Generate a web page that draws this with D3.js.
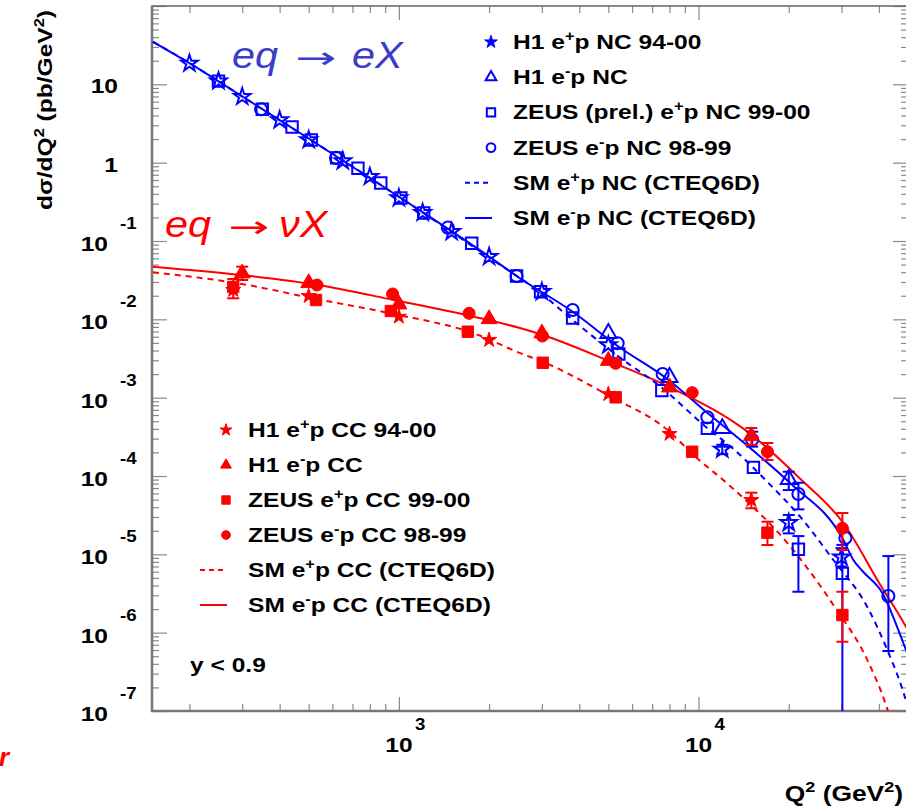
<!DOCTYPE html>
<html><head><meta charset="utf-8">
<script src="https://cdn.jsdelivr.net/npm/d3@7"></script>
<style>html,body{margin:0;padding:0;background:#fff;} svg{display:block;}</style>
</head><body>
<svg id="c" width="906" height="808"></svg>
<script>
// ---------------- DATA ----------------
// Neutral current (blue)
const h1NCposQ2 = [200,250,300,400,500,650,800,1000,1200,1500,2000,3000,5000,12000,20000,30000];
const h1NCposY  = [18.5,11.0,6.95,3.50,1.95,1.05,0.662,0.354,0.230,0.131,0.0630,0.0225,0.0047,2.19e-4,2.53e-5,9.2e-6];
const h1NCposHi = [null,null,null,null,null,null,null,null,null,null,null,null,null,2.5e-4,3.18e-5,1.2e-5];
const h1NCposLo = [null,null,null,null,null,null,null,null,null,null,null,null,null,1.9e-4,1.85e-5,7.0e-6];

const h1NCnegQ2 = [5000,8000,12000,20000];
const h1NCnegY  = [0.00663,0.00182,4.06e-4,9.07e-5];
const h1NCnegHi = [null,null,null,1.134e-4];
const h1NCnegLo = [null,null,null,6.62e-5];

const zNCposQ2 = [250,350,440,510,620,730,870,1015,1210,1750,2470,2970,3800,5420,7540,10700,15250,21540,30200];
const zNCposY  = [11.0,4.80,2.85,1.95,1.15,0.85,0.55,0.354,0.228,0.0934,0.0357,0.0225,0.0104,0.00361,0.00123,4.06e-4,1.29e-4,1.16e-5,5.72e-6];
const zNCposHi = [null,null,null,null,null,null,null,null,null,null,null,null,null,null,null,null,null,1.71e-5,1.32e-5];
const zNCposLo = [null,null,null,null,null,null,null,null,null,null,null,null,null,null,null,null,null,3.33e-6,1e-9];

const zNCnegQ2 = [347,617,1457,2470,3800,5370,7590,10700,15100,21540,30900,43000];
const zNCnegY  = [4.80,1.15,0.148,0.0357,0.01315,0.00494,0.00200,5.61e-4,2.9e-4,5.89e-5,1.615e-5,2.94e-6];
const zNCnegHi = [null,null,null,null,null,null,null,null,3.68e-4,8.2e-5,null,9.5e-6];
const zNCnegLo = [null,null,null,null,null,null,null,null,2.37e-4,3.75e-5,null,5.83e-7];

// Charged current (red)
const h1CCposQ2 = [280,500,1000,2000,5000,8000,15000];
const h1CCposY  = [0.0237,0.0198,0.0108,0.00545,0.00111,3.44e-4,4.93e-5];
const h1CCposHi = [null,null,null,null,null,null,6.12e-5];
const h1CCposLo = [null,null,null,null,null,null,3.87e-5];

const h1CCnegQ2 = [300,500,1000,2000,3000,5000,8000,15000];
const h1CCnegY  = [0.0387,0.0291,0.01555,0.01009,0.00663,0.00296,0.001356,3.24e-4];
const h1CCnegHi = [0.047,null,null,null,null,null,null,4.10e-4];
const h1CCnegLo = [0.0318,null,null,null,null,null,null,2.49e-4];

const zCCposQ2 = [280,529,940,1698,3020,5290,9520,16980,30200];
const zCCposY  = [0.0259,0.01765,0.01277,0.00695,0.00279,0.00101,2.04e-4,1.89e-5,1.68e-6];
const zCCposHi = [0.0327,null,null,null,null,null,null,2.61e-5,3.33e-6];
const zCCposLo = [0.01855,null,null,null,null,null,null,1.315e-5,7.66e-7];

const zCCnegQ2 = [533,953,1715,3010,5290,9520,16980,30200];
const zCCnegY  = [0.0274,0.02104,0.01194,0.00612,0.002745,0.001157,2.04e-4,2.15e-5];
const zCCnegHi = [null,null,null,null,null,null,2.64e-4,3.37e-5];
const zCCnegLo = [null,null,null,null,null,null,1.60e-4,1.135e-5];

// Standard Model curves (CTEQ6D)
const smNCnegQ2 = [151,200,302,509,1015,2011,2490,3802,5370,7882,10715,15140,20260,30430,32860,35480,41060,48230,50000];
const smNCnegY  = [35.0,18.7,6.89,1.946,0.354,0.0624,0.0350,0.01251,0.00456,0.00172,6.37e-4,2.146e-4,8.06e-5,1.523e-5,8.46e-6,5.95e-6,3.21e-6,7.38e-7,5.18e-7];
const smNCposQ2 = [151,200,302,509,1015,2011,2973,3802,5420,7470,10715,13085,16982,21880,28180,36590,42660,48230,50000];
const smNCposY  = [35.0,18.7,6.89,1.946,0.354,0.0606,0.0217,0.0098,0.00333,0.00138,4.06e-4,2.21e-4,8.38e-5,2.995e-5,8.46e-6,2.125e-6,6.0e-7,1.75e-7,1.1e-7];
const smCCnegQ2 = [151,297,537,962,1778,2551,3020,5090,8005,14910,21880,30430,40440,47130,50000];
const smCCnegY  = [0.0470,0.0368,0.0274,0.01765,0.0108,0.00768,0.00631,0.002877,0.001367,3.44e-4,9.15e-5,2.51e-5,4.06e-6,1.584e-6,1.08e-6];
const smCCposQ2 = [151,291,537,962,1778,2551,3020,5090,7882,9624,13085,19800,28180,36590,42000,45360];
const smCCposY  = [0.0398,0.0288,0.0180,0.01169,0.00663,0.00368,0.002877,0.001028,3.86e-4,1.853e-4,6.82e-5,1.394e-5,2.254e-6,4.47e-7,1.264e-7,5e-8];

// Axis ticks
const yMajorExp = [-7,-6,-5,-4,-3,-2,-1,0,1,2];
const xMajorExp = [3,4];
const xTickLabels = ["10","10"];
const yTickBase = "10";

// ---------------- DRAW ----------------
const FONT = "'Liberation Sans', Arial, Helvetica, sans-serif";
const SX = 1.17;
const BLUE = "#0000ff", RED = "#ff0000";
const svg = d3.select("#c");
const X0 = 152, X1 = 908, Y0 = 6, Y1 = 711;
const x = d3.scaleLog().domain([150, 50000]).range([X0, X1]);
const y = d3.scaleLog().domain([1e-7, 100]).range([Y1, Y0]);

svg.append("defs").append("clipPath").attr("id","clip")
  .append("rect").attr("x",X0).attr("y",Y0).attr("width",X1-X0).attr("height",Y1-Y0);

// ticks
const yMajor = yMajorExp.map(e => Math.pow(10, e));
const yMinor = [];
for (let e = -7; e < 2; e++) for (let m = 2; m <= 9; m++) yMinor.push(m * Math.pow(10, e));
const xMajor = xMajorExp.map(e => Math.pow(10, e));
const xMinor = [];
for (let e = 2; e <= 4; e++) for (let m = 2; m <= 9; m++) { const v = m * Math.pow(10, e); if (v > 150 && v < 50000) xMinor.push(v); }

function tickAxis(axis, tx, ty) {
  const g = svg.append("g").attr("transform", `translate(${tx},${ty})`).call(axis);
  g.select(".domain").remove();
  g.selectAll("line").attr("stroke", "#8a8a8a").attr("stroke-width", 1.2);
  g.selectAll("text").remove();
}
tickAxis(d3.axisRight(y).tickValues(yMajor).tickSize(15).tickFormat(""), X0, 0);
tickAxis(d3.axisRight(y).tickValues(yMinor).tickSize(7).tickFormat(""), X0, 0);
tickAxis(d3.axisLeft(y).tickValues(yMajor).tickSize(15).tickFormat(""), X1, 0);
tickAxis(d3.axisLeft(y).tickValues(yMinor).tickSize(7).tickFormat(""), X1, 0);
tickAxis(d3.axisTop(x).tickValues(xMajor).tickSize(14).tickFormat(""), 0, Y1);
tickAxis(d3.axisTop(x).tickValues(xMinor).tickSize(7).tickFormat(""), 0, Y1);
tickAxis(d3.axisBottom(x).tickValues(xMajor).tickSize(14).tickFormat(""), 0, Y0);
tickAxis(d3.axisBottom(x).tickValues(xMinor).tickSize(7).tickFormat(""), 0, Y0);

// frame
svg.append("rect").attr("x",X0).attr("y",Y0).attr("width",X1-X0).attr("height",Y1-Y0)
  .attr("fill","none").attr("stroke","#666").attr("stroke-width",1.5);
svg.append("line").attr("x1",X0).attr("x2",X0).attr("y1",Y0).attr("y2",Y1+1).attr("stroke","#777").attr("stroke-width",2.5);
svg.append("line").attr("x1",X0-1).attr("x2",X1).attr("y1",Y1).attr("y2",Y1).attr("stroke","#777").attr("stroke-width",2.5);

function stext(parent, str, tx, ty, size, anchor, opts = {}) {
  return parent.append("text")
    .attr("transform", `translate(${tx},${ty}) scale(${opts.sx || SX},1)`)
    .attr("text-anchor", anchor || "start")
    .attr("font-family", FONT).attr("font-weight", opts.weight || "bold")
    .attr("font-style", opts.style || "normal")
    .attr("font-size", size).attr("fill", opts.color || "#000")
    .text(str);
}
function rich(parent, segs, transform, size, anchor, color) {
  const t = parent.append("text").attr("transform", transform)
    .attr("text-anchor", anchor || "start").attr("font-family", FONT).attr("font-weight", "bold")
    .attr("font-size", size).attr("fill", color || "#000");
  let up = false;
  const shift = Math.round(size * 0.4), ss = Math.round(size * 0.68);
  segs.forEach(s => {
    if (typeof s === "string") {
      const sp = t.append("tspan").text(s);
      if (up) { sp.attr("dy", shift); up = false; }
    } else {
      t.append("tspan").attr("dy", -shift).attr("font-size", ss).text(s.sup);
      up = true;
    }
  });
  return t;
}

// Y tick labels
const labG = svg.append("g");
yMajorExp.forEach(e => {
  const ty = y(Math.pow(10, e));
  if (e === 2) return;
  if (e === 1) stext(labG, "10", 118, ty + 9, 21, "end");
  else if (e === 0) stext(labG, "1", 118, ty + 9, 21, "end");
  else {
    stext(labG, yTickBase, 108, ty + 10, 21, "end");
    stext(labG, String(e), 120, ty - 12, 16, "start");
  }
});
// X tick labels
xMajorExp.forEach((e, i) => {
  const tx = x(Math.pow(10, e));
  stext(labG, xTickLabels[i], tx, 752, 21, "middle");
  stext(labG, String(e), tx + 16, 730, 16, "start");
});
// axis titles
rich(svg, ["Q", {sup: "2"}, " (GeV", {sup: "2"}, ")"], `translate(903,801) scale(1.2,1)`, 22, "end");
rich(svg, ["d\u03c3/dQ", {sup: "2"}, " (pb/GeV", {sup: "2"}, ")"], `translate(52,10) rotate(-90) scale(${SX},1)`, 21, "end");

// ---------- curves ----------
const plot = svg.append("g").attr("clip-path", "url(#clip)");
const line = d3.line().x(d => x(d[0])).y(d => y(d[1])).curve(d3.curveMonotoneX);
function curve(qs, vs, color, dashed) {
  plot.append("path").datum(qs.map((q, i) => [q, vs[i]]))
    .attr("d", line).attr("fill", "none").attr("stroke", color).attr("stroke-width", 2)
    .attr("stroke-dasharray", dashed ? "6,5" : null);
}
curve(smCCposQ2, smCCposY, RED, true);
curve(smCCnegQ2, smCCnegY, RED, false);
curve(smNCposQ2, smNCposY, BLUE, true);
curve(smNCnegQ2, smNCnegY, BLUE, false);

// ---------- markers ----------
const symTypes = {circle: d3.symbolCircle, square: d3.symbolSquare, triangle: d3.symbolTriangle, star: d3.symbolStar};
function marker(g, type, cx, cy, size, color, filled) {
  g.append("path").attr("d", d3.symbol().type(symTypes[type]).size(size)())
    .attr("transform", `translate(${cx},${cy})`)
    .attr("fill", filled ? color : "none").attr("stroke", color)
    .attr("stroke-width", filled ? 1 : 2);
}
function series(qs, vs, his, los, type, size, color, filled) {
  qs.forEach((q, i) => {
    const cx = x(q);
    if (his[i] != null) {
      const yh = y(his[i]), yl = y(los[i]);
      plot.append("line").attr("x1", cx).attr("x2", cx).attr("y1", yh).attr("y2", yl).attr("stroke", color).attr("stroke-width", 2);
      [yh, yl].forEach(yy => plot.append("line").attr("x1", cx - 6).attr("x2", cx + 6).attr("y1", yy).attr("y2", yy).attr("stroke", color).attr("stroke-width", 2));
    }
  });
  qs.forEach((q, i) => marker(plot, type, x(q), y(vs[i]), size, color, filled));
}
series(zNCposQ2, zNCposY, zNCposHi, zNCposLo, "square", 130, BLUE, false);
series(zNCnegQ2, zNCnegY, zNCnegHi, zNCnegLo, "circle", 115, BLUE, false);
series(h1NCnegQ2, h1NCnegY, h1NCnegHi, h1NCnegLo, "triangle", 110, BLUE, false);
series(h1NCposQ2, h1NCposY, h1NCposHi, h1NCposLo, "star", 85, BLUE, false);
series(zCCposQ2, zCCposY, zCCposHi, zCCposLo, "square", 130, RED, true);
series(zCCnegQ2, zCCnegY, zCCnegHi, zCCnegLo, "circle", 115, RED, true);
series(h1CCnegQ2, h1CCnegY, h1CCnegHi, h1CCnegLo, "triangle", 110, RED, true);
series(h1CCposQ2, h1CCposY, h1CCposHi, h1CCposLo, "star", 70, RED, true);

// ---------- legends ----------
const leg = svg.append("g");
const ncLegend = [
  {type: "star", segs: ["H1 e", {sup: "+"}, "p NC 94-00"]},
  {type: "triangle", segs: ["H1 e", {sup: "-"}, "p NC"]},
  {type: "square", segs: ["ZEUS (prel.) e", {sup: "+"}, "p NC 99-00"]},
  {type: "circle", segs: ["ZEUS e", {sup: "-"}, "p NC 98-99"]},
  {type: "dash", segs: ["SM e", {sup: "+"}, "p NC (CTEQ6D)"]},
  {type: "solid", segs: ["SM e", {sup: "-"}, "p NC (CTEQ6D)"]}
];
const ccLegend = [
  {type: "star", segs: ["H1 e", {sup: "+"}, "p CC 94-00"]},
  {type: "triangle", segs: ["H1 e", {sup: "-"}, "p CC"]},
  {type: "square", segs: ["ZEUS e", {sup: "+"}, "p CC 99-00"]},
  {type: "circle", segs: ["ZEUS e", {sup: "-"}, "p CC 98-99"]},
  {type: "dash", segs: ["SM e", {sup: "+"}, "p CC (CTEQ6D)"]},
  {type: "solid", segs: ["SM e", {sup: "-"}, "p CC (CTEQ6D)"]}
];
function legend(items, mx, tx, y0, dy, color, filled) {
  items.forEach((it, i) => {
    const cy = y0 + i * dy;
    if (it.type === "dash" || it.type === "solid") {
      leg.append("line").attr("x1", mx - 27).attr("x2", mx).attr("y1", cy).attr("y2", cy)
        .attr("stroke", color).attr("stroke-width", 2).attr("stroke-dasharray", it.type === "dash" ? "5,4" : null);
    } else {
      const sz = {star: filled ? 45 : 50, triangle: 50, square: 70, circle: 60}[it.type];
      marker(leg, it.type, mx - 1, cy, sz, color, filled || it.type === "star");
    }
    rich(leg, it.segs, `translate(${tx},${cy + 7}) scale(${SX},1)`, 21, "start");
  });
}
legend(ncLegend, 492, 513, 42, 35.2, BLUE, false);
legend(ccLegend, 227, 248, 430, 35, RED, true);
stext(leg, "y < 0.9", 190, 672, 21, "start");

// ---------- annotations ----------
const ann = svg.append("g");
const AC = "#3c3cc8";
function annot(parts, color, base) {
  parts.forEach(p => {
    if (p.arrow) {
      ann.append("text").attr("x", p.x).attr("y", base)
        .attr("font-family", "'DejaVu Sans', sans-serif").attr("font-size", 30).attr("fill", color)
        .attr("textLength", 41).attr("lengthAdjust", "spacingAndGlyphs").text(p.t);
    } else {
      ann.append("text").attr("transform", `translate(${p.x},${base}) scale(1.12,1)`)
        .attr("font-family", FONT).attr("font-style", "italic").attr("font-size", 37).attr("fill", color).text(p.t);
    }
  });
}
annot([{t: "eq", x: 232}, {t: "\u2192", x: 295, arrow: true}, {t: "eX", x: 352}], AC, 68);
annot([{t: "eq", x: 165}, {t: "\u2192", x: 228, arrow: true}, {t: "\u03bdX", x: 279}], RED, 237);
ann.append("text").attr("x", -1).attr("y", 766).attr("font-family", FONT).attr("font-style", "italic")
  .attr("font-weight", "bold").attr("font-size", 26).attr("fill", RED).text("r");
</script>
</body></html>
